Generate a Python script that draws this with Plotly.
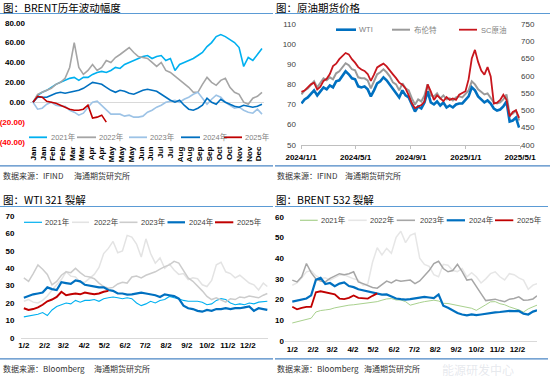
import pandas as pd
import plotly.graph_objects as go

W, H = 550, 386

# ---------------- Data ----------------
# Panel 1: BRENT yearly change (%), sampled every 5 trading days
P1_DAYS = list(range(0, 251, 5))
P1_MONTH_TICKS = [0, 11, 21, 32, 43, 53, 64, 75, 86, 96, 107, 118, 128, 139, 150, 161,
                  171, 182, 193, 203, 214, 225, 236, 246]
P1_MONTH_LABELS = ["Jan", "Jan", "Feb", "Feb", "Mar", "Mar", "Apr", "Apr", "May", "May", "May",
                   "Jun", "Jun", "Jul", "Jul", "Aug", "Aug", "Sep", "Sep", "Oct", "Oct",
                   "Nov", "Nov", "Dec"]
BRENT_CHG_2021 = [0, 7, 10, 12, 15, 18, 20, 22, 24, 25, 22, 25, 25, 28, 30, 31, 30, 32, 35, 34,
                  38, 40, 42, 44, 46, 47, 44, 46, 47, 42, 44, 32, 38, 40, 42, 44, 47, 50, 56, 60,
                  66, 68, 66, 63, 60, 55, 36, 45, 42, 48, 54]
BRENT_CHG_2022 = [0, 8, 10, 12, 14, 18, 20, 24, 35, 60, 35, 28, 32, 38, 32, 35, 42, 40, 45, 48,
                  52, 55, 50, 46, 45, 44, 40, 36, 40, 32, 30, 26, 22, 18, 15, 10, 10, 18, 25, 20,
                  17, 22, 24, 15, 10, 8, 0, -2, 4, 6, 10]
BRENT_CHG_2023 = [0, -7, -6, -2, 0, -3, -4, -4, -8, -10, -13, -11, -5, 0, 1, -3, -8, -12, -12, -12,
                  -14, -13, -15, -15, -14, -10, -8, -5, -3, 0, 1, 2, 0, 3, 5, 8, 10, 4, -2, 3,
                  7, 5, 0, -3, -6, -5, -8, -10, -11, -7, -12]
BRENT_CHG_2024 = [0, 5, 5, 5, 7, 9, 10, 9, 10, 11, 12, 14, 17, 20, 19, 18, 15, 12, 10, 12,
                  11, 9, 8, 10, 12, 13, 12, 11, 8, 5, 2, 0, 2, -3, -7, -8, -6, -3, 4, 0,
                  -2, 3, 0, -2, -4, -5, -3, -4, -5, -4, -2]
BRENT_CHG_2025 = [0, 6, 5, 1, 0, -1, -3, -5, -7, -8, -8, -7, -3, -16, -15, -13, -20]
P1_YTICKS = [-40, -20, 0, 20, 40, 60, 80]

# Panel 2: crude futures prices, weekly
P2_DATES = pd.date_range("2024-01-02", periods=70, freq="7D")
WTI_PRICE = [70.5, 72.5, 73.5, 75.5, 77.0, 74.5, 76.5, 78.5, 77.5, 79.5,
             78.5, 81.5, 82.0, 84.0, 86.5, 85.0, 83.0, 82.5, 79.0, 78.5,
             79.0, 77.5, 74.0, 77.0, 80.5, 81.5, 83.5, 82.0, 80.0, 77.5,
             76.0, 73.5, 77.0, 74.5, 73.5, 69.5, 66.5, 69.0, 68.0, 71.0,
             76.5, 71.0, 70.0, 71.5, 69.5, 71.0, 68.5, 69.5, 68.5, 70.0,
             70.5, 70.5, 72.5, 74.0, 78.5, 77.0, 74.0, 72.5, 71.0, 72.0,
             70.5, 68.0, 67.0, 67.5, 69.0, 71.5, 61.5, 62.0, 63.5, 58.5]
BRENT_PRICE = [75.0, 77.0, 78.0, 80.0, 81.5, 78.5, 81.0, 83.0, 82.0, 83.5,
               82.5, 85.5, 86.5, 88.5, 90.5, 89.5, 87.5, 87.0, 83.5, 83.0,
               83.0, 82.0, 78.0, 81.5, 85.0, 86.0, 87.5, 86.0, 84.0, 81.0,
               80.0, 77.0, 80.5, 78.0, 77.0, 73.0, 70.0, 72.5, 71.5, 74.5,
               80.0, 74.5, 74.0, 75.5, 73.0, 74.5, 72.5, 73.0, 72.0, 73.5,
               74.0, 73.5, 75.5, 77.0, 81.5, 80.0, 77.5, 76.0, 75.0, 75.5,
               73.5, 71.0, 70.5, 71.0, 72.5, 75.0, 65.0, 65.5, 67.0, 62.0]
SC_PRICE = [553, 557, 566, 575, 580, 560, 568, 585, 591, 605,
            628, 635, 648, 658, 666, 662, 648, 638, 625, 618,
            614, 605, 585, 603, 624, 630, 635, 627, 617, 604,
            593, 580, 574, 563, 543, 520, 506, 510, 515, 525,
            575, 555, 530, 543, 534, 526, 538, 530, 534, 530,
            545, 550, 555, 590, 650, 675, 640, 615, 603, 625,
            598, 519, 522, 530, 545, 530, 482, 495, 500, 478]
P2_XTICKS = ["2024-01-01", "2024-05-01", "2024-09-01", "2025-01-01", "2025-05-01"]
P2_XLABELS = ["2024/1/1", "2024/5/1", "2024/9/1", "2025/1/1", "2025/5/1"]

# Panels 3 & 4: cracks by day of year (offset from Jan 2), weekly
CRACK_DAYS = list(range(0, 358, 7)) + [363]
CRACK_DAYS_2025 = list(range(0, 127, 7))
CRACK_XTICKS = [0, 31, 59, 90, 120, 151, 181, 212, 243, 273, 304, 334]
CRACK_XLABELS = ["1/2", "2/2", "3/2", "4/2", "5/2", "6/2", "7/2", "8/2", "9/2", "10/2", "11/2", "12/2"]

WTI321_2021 = [12.0, 12.5, 13.0, 13.5, 14.5, 12.8, 16.0, 18.0, 19.0, 20.0,
               19.5, 21.5, 20.5, 21.5, 21.5, 22.0, 21.0, 22.5, 23.0, 23.5,
               23.0, 22.5, 23.0, 22.5, 20.0, 18.5, 19.5, 21.0, 20.0, 21.5,
               22.0, 23.8, 23.0, 22.5, 21.5, 21.0, 21.0, 21.0, 20.5, 19.0,
               19.5, 21.5, 22.5, 22.0, 20.0, 19.0, 19.5, 19.0, 20.0, 19.5,
               20.5, 21.0, 21.0]
WTI321_2022 = [21.0, 22.0, 20.5, 20.0, 21.5, 24.0, 27.5, 30.6, 33.5, 38.0,
               35.5, 35.0, 32.0, 32.0, 34.5, 36.5, 40.5, 48.5, 51.5, 55.5,
               49.0, 50.0, 59.0, 58.0, 54.0, 46.5, 57.0, 48.5, 43.0, 46.0,
               40.0, 42.5, 39.0, 36.5, 37.0, 33.5, 34.5, 34.0, 30.5, 29.5,
               33.0, 42.0, 43.5, 38.0, 37.0, 34.5, 36.0, 34.0, 31.5, 30.5,
               27.5, 31.5, 29.5]
WTI321_2023 = [34.5, 32.5, 37.0, 42.0, 39.5, 36.5, 30.5, 32.5, 36.0, 38.0,
               37.5, 40.0, 37.5, 35.5, 35.0, 34.0, 31.5, 29.5, 28.5, 29.0,
               31.0, 32.0, 31.5, 35.0, 35.5, 34.5, 36.0, 37.0, 38.0, 39.5,
               41.0, 42.0, 44.0, 43.0, 38.5, 34.5, 32.5, 30.0, 27.0, 23.8,
               22.0, 23.0, 21.5, 20.5, 22.5, 22.0, 23.5, 23.0, 24.0, 23.5,
               23.0, 24.5, 25.5]
WTI321_2024 = [23.0, 24.0, 25.0, 25.5, 26.0, 29.0, 28.0, 27.5, 32.0, 31.5,
               31.0, 33.0, 32.5, 30.5, 30.0, 29.5, 29.0, 29.0, 27.5, 27.0,
               25.5, 25.5, 24.8, 25.0, 25.5, 26.0, 25.5, 25.0, 24.5, 23.5,
               25.0, 24.5, 24.0, 22.5, 18.5, 17.0, 16.5, 15.5, 15.0, 16.0,
               15.5, 16.5, 16.5, 17.0, 16.5, 17.0, 17.0, 17.5, 18.0, 15.5,
               17.0, 16.5, 16.0]
WTI321_2025 = [17.0, 16.0, 16.5, 17.5, 19.0, 21.0, 22.0, 23.5, 26.5, 24.5,
               25.0, 25.5, 25.0, 26.0, 25.5, 25.0, 25.5, 26.5, 27.0]

B532_2021 = [8.7, 9.3, 9.8, 10.2, 11.0, 14.0, 14.7, 15.0, 15.3, 16.0,
             16.5, 17.0, 17.3, 17.5, 17.8, 18.0, 18.2, 18.6, 19.0, 19.7,
             20.3, 20.5, 19.8, 19.8, 19.0, 17.3, 18.0, 18.5, 19.0, 19.2,
             19.7, 19.3, 18.2, 18.1, 17.6, 17.3, 16.5, 16.2, 15.8, 14.8,
             16.0, 17.5, 18.9, 19.0, 18.0, 17.5, 16.5, 15.8, 15.0, 14.0,
             15.5, 16.5, 17.3]
B532_2022 = [26.9, 28.0, 30.5, 33.4, 34.0, 31.5, 30.2, 30.5, 29.4, 30.5,
             31.8, 32.0, 31.0, 30.0, 29.4, 27.0, 27.5, 38.0, 45.0, 41.5,
             44.7, 42.3, 50.0, 53.0, 47.5, 51.0, 52.0, 40.0, 37.0, 36.0,
             32.0, 31.0, 37.0, 36.6, 34.0, 33.5, 35.0, 31.0, 33.0, 31.0,
             28.0, 30.0, 32.5, 33.4, 31.0, 29.5, 32.5, 32.0, 30.5, 29.4,
             25.0, 27.0, 27.7]
B532_2023 = [29.4, 28.5, 31.0, 37.4, 33.0, 30.0, 29.0, 28.5, 30.2, 31.5,
             32.5, 32.0, 32.5, 33.4, 28.5, 27.7, 26.9, 25.8, 25.5, 27.0,
             28.9, 28.0, 29.4, 28.8, 29.0, 29.4, 27.7, 29.0, 31.5, 34.0,
             37.4, 38.5, 35.0, 33.4, 34.0, 37.0, 33.5, 29.4, 29.8, 26.1,
             22.9, 19.5, 19.7, 20.2, 19.5, 19.0, 20.2, 20.5, 21.3, 19.7,
             19.8, 20.3, 21.8]
B532_2024 = [19.0, 19.5, 20.0, 20.5, 22.0, 29.5, 30.5, 27.5, 28.0, 26.5,
             27.7, 28.3, 26.5, 26.0, 25.0, 24.5, 24.0, 23.5, 23.2, 22.4,
             22.5, 21.3, 20.5, 20.2, 20.0, 20.2, 20.5, 21.0, 21.3, 21.0,
             20.7, 22.5, 17.0, 16.0, 14.8, 13.5, 12.8, 12.4, 12.8, 12.5,
             12.8, 13.2, 13.5, 13.8, 14.0, 14.3, 14.5, 14.4, 14.5, 13.2,
             12.8, 14.2, 14.8]
B532_2025 = [16.5, 15.3, 16.0, 16.5, 16.5, 23.5, 24.0, 23.5, 22.8, 22.5,
             20.5, 20.2, 20.8, 22.0, 20.8, 20.8, 20.5, 21.8, 23.0]

YEAR_NAMES = ["2021年", "2022年", "2023年", "2024年", "2025年"]

# ---------------- Styling helpers ----------------
FONT = "Liberation Sans, Noto Sans CJK SC, sans-serif"
CJK = "Noto Sans CJK SC, Liberation Sans, sans-serif"
TITLE_BLUE = "#5B9BD5"


def fx(px):
    return px / W


def fy(py):
    return 1 - py / H


fig = go.Figure()

# ---- Panel 1 ----
p1_colors = ["#00B0F0", "#A5A5A5", "#9DC3E6", "#0070C0", "#C00000"]
p1_series = [BRENT_CHG_2021, BRENT_CHG_2022, BRENT_CHG_2023, BRENT_CHG_2024, BRENT_CHG_2025]
for name, col, vals in zip(YEAR_NAMES, p1_colors, p1_series):
    fig.add_trace(go.Scatter(x=P1_DAYS[:len(vals)], y=vals, name=name, mode="lines",
                             line=dict(color=col, width=1.6), xaxis="x", yaxis="y",
                             showlegend=False))

# ---- Panel 2 ----
fig.add_trace(go.Scatter(x=P2_DATES, y=BRENT_PRICE, name="布伦特", mode="lines",
                         line=dict(color="#9A9A9A", width=2), xaxis="x2", yaxis="y2", showlegend=False))
fig.add_trace(go.Scatter(x=P2_DATES, y=WTI_PRICE, name="WTI", mode="lines",
                         line=dict(color="#0070C0", width=2.6), xaxis="x2", yaxis="y2", showlegend=False))
fig.add_trace(go.Scatter(x=P2_DATES, y=SC_PRICE, name="SC原油", mode="lines",
                         line=dict(color="#C8161D", width=1.8), xaxis="x2", yaxis="y3", showlegend=False))

# ---- Panel 3 ----
p3_colors = ["#00B0F0", "#E3E3E3", "#CCCCCC", "#0070C0", "#C00000"]
p3_widths = [1.1, 1.5, 1.5, 2.2, 2.0]
p3_series = [WTI321_2021, WTI321_2022, WTI321_2023, WTI321_2024, WTI321_2025]
for name, col, wd, vals in zip(YEAR_NAMES, p3_colors, p3_widths, p3_series):
    xs = CRACK_DAYS_2025 if len(vals) < len(CRACK_DAYS) else CRACK_DAYS
    fig.add_trace(go.Scatter(x=xs, y=vals, name=name, mode="lines",
                             line=dict(color=col, width=wd), xaxis="x3", yaxis="y4", showlegend=False))

# ---- Panel 4 ----
p4_colors = ["#A9D18E", "#E6E6E6", "#A6A6A6", "#0070C0", "#C00000"]
p4_widths = [1.0, 1.5, 1.5, 2.2, 1.8]
p4_series = [B532_2021, B532_2022, B532_2023, B532_2024, B532_2025]
for name, col, wd, vals in zip(YEAR_NAMES, p4_colors, p4_widths, p4_series):
    xs = CRACK_DAYS_2025 if len(vals) < len(CRACK_DAYS) else CRACK_DAYS
    fig.add_trace(go.Scatter(x=xs, y=vals, name=name, mode="lines",
                             line=dict(color=col, width=wd), xaxis="x4", yaxis="y5", showlegend=False))

# ---------------- Axes ----------------
bold8 = dict(family=FONT, size=8, color="#000000", weight="bold")


def p1_label(v):
    if v < 0:
        return "<span style='color:#FF0000'>(%.2f)</span>" % abs(v)
    return "%.2f" % v


layout = dict(
    width=W, height=H, margin=dict(l=0, r=0, t=0, b=0, pad=0, autoexpand=False),
    paper_bgcolor="white", plot_bgcolor="white", showlegend=False,
    font=dict(family=FONT, size=8, color="#404040"),
    xaxis=dict(domain=[fx(30), fx(264)], range=[-3.3, 252.2], anchor="y", automargin=False,
               tickvals=P1_MONTH_TICKS, ticktext=P1_MONTH_LABELS, tickangle=-90,
               tickfont=bold8, showgrid=False, zeroline=False, showline=False, ticks="",
               ticklabelstandoff=2),
    yaxis=dict(domain=[fy(142), fy(22.7)], range=[-40, 80], anchor="x", automargin=False,
               tickvals=P1_YTICKS, ticktext=[p1_label(v) for v in P1_YTICKS],
               tickfont=bold8, showgrid=False, zeroline=True, zerolinecolor="#D9D9D9",
               zerolinewidth=1, showline=False, ticks="", ticklabelstandoff=4),
    xaxis2=dict(domain=[fx(301), fx(520)], type="date", range=["2024-01-01", "2025-05-01"],
                anchor="y2", automargin=False, tickvals=P2_XTICKS, ticktext=P2_XLABELS, tickfont=bold8,
                showgrid=False, zeroline=False, showline=True, linecolor="#BFBFBF", linewidth=1,
                ticks="outside", ticklen=3, tickcolor="#BFBFBF", ticklabelstandoff=2),
    yaxis2=dict(domain=[fy(144.7), fy(24)], range=[50, 110], dtick=10, anchor="x2", automargin=False,
                tickfont=dict(family=FONT, size=8, color="#404040"), showgrid=False,
                zeroline=False, showline=False, ticks="", ticklabelstandoff=4),
    yaxis3=dict(domain=[fy(144.7), fy(24)], range=[400, 750], dtick=50, anchor="x2", automargin=False,
                overlaying="y2", side="right",
                tickfont=dict(family=FONT, size=8, color="#404040"), showgrid=False,
                zeroline=False, showline=False, ticks=""),
    xaxis3=dict(domain=[fx(20.5), fx(268)], range=[-5, 364], anchor="y4", automargin=False,
                tickvals=CRACK_XTICKS, ticktext=CRACK_XLABELS, tickfont=bold8,
                showgrid=False, zeroline=False, showline=True, linecolor="#D9D9D9", ticks=""),
    yaxis4=dict(domain=[fy(337.7), fy(216.3)], range=[0, 70], dtick=10, anchor="x3", automargin=False,
                tickfont=bold8, showgrid=False, zeroline=False, showline=False, ticks="",
                ticklabelstandoff=5),
    xaxis4=dict(domain=[fx(285), fx(537)], range=[-10.8, 363], anchor="y5", automargin=False,
                tickvals=CRACK_XTICKS, ticktext=CRACK_XLABELS, tickfont=bold8,
                showgrid=False, zeroline=False, showline=True, linecolor="#D9D9D9", ticks=""),
    yaxis5=dict(domain=[fy(341), fy(216.7)], range=[0, 60], dtick=10, anchor="x4", automargin=False,
                tickfont=bold8, showgrid=False, zeroline=False, showline=False, ticks=""),
)
fig.update_layout(**layout)

# ---------------- Titles, sources, frame lines ----------------
annotations = []
shapes = []


def text(px, py, s, size=8, color="#333333", family=CJK, anchor="left"):
    annotations.append(dict(x=fx(px), y=fy(py), xref="paper", yref="paper", text=s,
                            showarrow=False, xanchor=anchor, yanchor="middle",
                            font=dict(family=family, size=size, color=color)))


def hline(x0, x1, py, color, width=1):
    shapes.append(dict(type="line", xref="paper", yref="paper", x0=fx(x0), x1=fx(x1),
                       y0=fy(py), y1=fy(py), line=dict(color=color, width=width)))


# titles
text(1, 8, "图：BRENT历年波动幅度", size=10.5, color="#000000")
text(274, 8, "图：原油期货价格", size=10.5, color="#000000")
text(1, 199.7, "图：WTI 321 裂解", size=10.5, color="#000000")
text(274, 199.7, "图：BRENT 532 裂解", size=10.5, color="#000000")
for x0, x1, py in [(0, 273, 13.5), (275, 550, 13.5), (0, 273, 206.5), (275, 548, 206.5)]:
    hline(x0, x1, py, TITLE_BLUE, 1)

# sources
for x0, x1, py in [(0, 273, 165.8), (275, 550, 165.8), (0, 273, 358.8), (275, 548, 358.8)]:
    hline(x0, x1, py, "#4A86C5", 1.2)
text(1, 175, "数据来源：IFIND", size=8)
text(72, 175, "海通期货研究所", size=8)
text(275, 175, "数据来源：IFIND", size=8)
text(343, 175, "海通期货研究所", size=8)
text(1, 368, "数据来源：Bloomberg", size=8)
text(92, 368, "海通期货研究所", size=8)
text(275, 368, "数据来源：Bloomberg", size=8)
text(362, 368, "海通期货研究所", size=8)
text(440, 369, "能源研发中心", size=12, color="rgba(200,205,215,0.45)")

# ---------------- Legends (swatch + label) ----------------
legend_specs = [
    # (y, text colour, items: (label, colour, width, x0, x1, text_x))
    (137.3, "#7F7F7F", [("2021年", p1_colors[0], 1.8, 29, 47, 48.5),
                        ("2022年", p1_colors[1], 1.8, 77, 96, 97),
                        ("2023年", p1_colors[2], 1.8, 129, 147, 148),
                        ("2024年", p1_colors[3], 1.8, 181, 200, 201),
                        ("2025年", p1_colors[4], 1.8, 224, 242, 243)]),
    (29.7, "#7F7F7F", [("WTI", "#0070C0", 2.6, 336, 356, 357),
                       ("布伦特", "#9A9A9A", 2.0, 392, 410, 412),
                       ("SC原油", "#C8161D", 1.8, 459, 477, 479)]),
    (222.3, "#404040", [("2021年", p3_colors[0], 1.2, 24, 42, 43.3),
                        ("2022年", p3_colors[1], 1.6, 72, 89, 91.5),
                        ("2023年", p3_colors[2], 1.6, 119.5, 137.5, 139.3),
                        ("2024年", p3_colors[3], 2.2, 167.5, 185, 186.7),
                        ("2025年", p3_colors[4], 2.0, 215, 233.3, 235)]),
    (220.3, "#404040", [("2021年", p4_colors[0], 1.2, 300, 317.7, 319.3),
                        ("2022年", p4_colors[1], 1.6, 348.3, 366.7, 368.3),
                        ("2023年", p4_colors[2], 1.6, 396.7, 415, 417.7),
                        ("2024年", p4_colors[3], 2.2, 446.7, 465, 466.7),
                        ("2025年", p4_colors[4], 1.8, 495, 513.3, 515)]),
]
for py, tcol, items in legend_specs:
    for label, col, wd, x0, x1, tx in items:
        hline(x0, x1, py, col, wd)
        text(tx, py, label, size=7.5, color=tcol, family=FONT)

fig.update_layout(annotations=annotations, shapes=shapes)
fig.write_html("out.html", config={"displayModeBar": False},
               post_script="document.body.style.margin='0';document.body.style.padding='0';")
